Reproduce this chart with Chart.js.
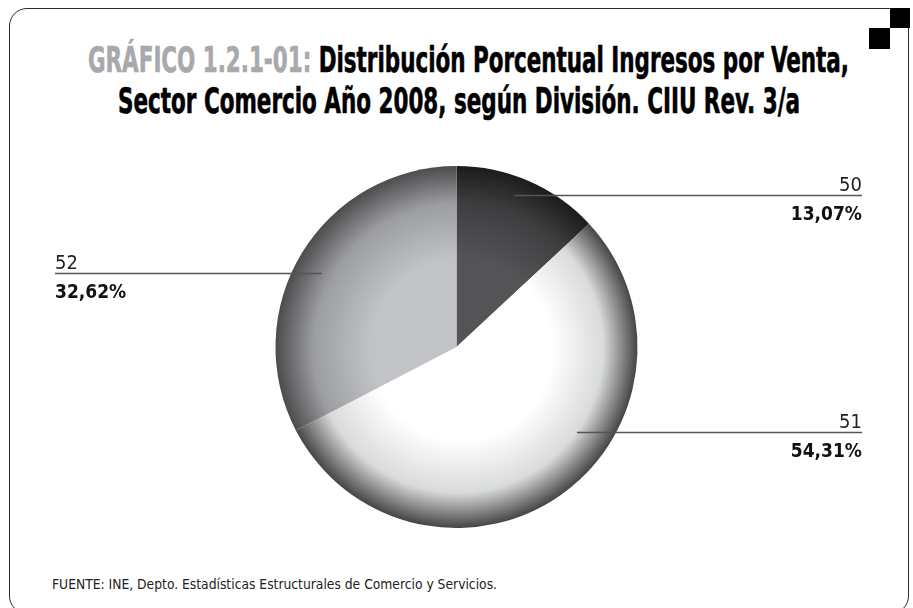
<!DOCTYPE html>
<html>
<head>
<meta charset="utf-8">
<script src="https://cdn.jsdelivr.net/npm/chart.js@4.4.1/dist/chart.umd.min.js"></script>
<style>
  html, body { margin: 0; padding: 0; background: #fff; }
  body { width: 913px; height: 608px; position: relative; overflow: hidden; }
  #frame {
    position: absolute; left: 9px; top: 8px; width: 900px; height: 606px;
    border: 1.4px solid #2a2a2a; border-radius: 18px; box-sizing: border-box;
  }
  .sq { position: absolute; background: #000; }
  .title, #foot {
    position: absolute; left: 0; white-space: nowrap; transform-origin: 0 0;
    font-family: "Liberation Sans Narrow", "DejaVu Sans Condensed", sans-serif;
    line-height: 1;
  }
  .title { font-weight: bold; font-size: 35px; color: #000; -webkit-text-stroke: 0.6px currentColor; }
  .title .code { color: #a7a9ac; }
  #foot { font-size: 14px; color: #222; }
  #chart { position: absolute; left: 0; top: 0; }
</style>
</head>
<body>
<div id="frame"></div>
<div class="sq" style="left:890px;top:8px;width:20px;height:20px"></div>
<div class="sq" style="left:869px;top:28px;width:21px;height:21px"></div>

<div class="title" id="t1"><span class="code">GRÁFICO 1.2.1-01:</span> Distribución Porcentual Ingresos por Venta,</div>
<div class="title" id="t2">Sector Comercio Año 2008, según División. CIIU Rev. 3/a</div>
<div id="foot">FUENTE: INE, Depto. Estadísticas Estructurales de Comercio y Servicios.</div>

<canvas id="chart" width="913" height="608"></canvas>

<script>
// ── Data ────────────────────────────────────────────────────────────────────
const divisions = ['50', '51', '52'];
const shares    = [13.07, 54.31, 32.62];
const shareText = ['13,07%', '54,31%', '32,62%'];

// ── Colours: base tone at the centre, darkening toward the rim ─────────────
const BASE = ['#545456', '#ffffff', '#c2c3c6'];
const MID  = ['#3e3e40', '#d9dadb', '#9c9da0'];
const RIM  = ['#1c1c1c', '#454545', '#4c4c4e'];

const FONT = "'Liberation Sans Narrow', 'DejaVu Sans Condensed', sans-serif";

// stretch a text line between two x positions, sitting on a baseline
function fitLine(id, left, right, baseline) {
  const el = document.getElementById(id);
  const fs = parseFloat(getComputedStyle(el).fontSize);
  const w = el.getBoundingClientRect().width;
  el.style.left = left + 'px';
  el.style.top = (baseline - 0.846 * fs) + 'px';
  el.style.transform = `scaleX(${(right - left) / w})`;
}
fitLine('t1', 88, 849, 73);
fitLine('t2', 118, 800, 114);
fitLine('foot', 52, 497, 589);

function shade(ctx) {
  const area = ctx.chart.chartArea;
  const i = ctx.dataIndex;
  if (!area) return BASE[i];
  const cx = (area.left + area.right) / 2;
  const cy = (area.top + area.bottom) / 2;
  const r = Math.min(area.right - area.left, area.bottom - area.top) / 2;
  const g = ctx.chart.ctx.createRadialGradient(cx + 10, cy + 5, 0, cx, cy, r);
  g.addColorStop(0, BASE[i]);
  g.addColorStop(0.5, BASE[i]);
  g.addColorStop(0.8, MID[i]);
  g.addColorStop(1, RIM[i]);
  return g;
}

// leader lines + labels, anchored on each slice
const callout = {
  frac:   [0.44, 0.40, 0.48],   // position along the slice's angle
  radius: [0.90, 0.815, 0.85],  // fraction of the pie radius
  side:   ['right', 'right', 'left'],
};
const calloutPlugin = {
  id: 'callout',
  afterDatasetsDraw(chart) {
    const c = chart.ctx;
    chart.getDatasetMeta(0).data.forEach((arc, i) => {
      const p = arc.getProps(['x', 'y', 'startAngle', 'endAngle', 'outerRadius'], true);
      const a = p.startAngle + callout.frac[i] * (p.endAngle - p.startAngle);
      const ax = p.x + Math.cos(a) * p.outerRadius * callout.radius[i];
      const ay = Math.round(p.y + Math.sin(a) * p.outerRadius * callout.radius[i]);
      const right = callout.side[i] === 'right';
      const tx = right ? 862 : 55;
      c.save();
      c.strokeStyle = '#555';
      c.lineWidth = 1.3;
      c.beginPath();
      c.moveTo(ax, ay + 0.5);
      c.lineTo(tx, ay + 0.5);
      c.stroke();
      c.fillStyle = '#222';
      c.textAlign = right ? 'right' : 'left';
      c.textBaseline = 'alphabetic';
      c.font = `20px ${FONT}`;
      c.fillText(divisions[i], tx, ay - 4);
      c.fillStyle = '#111';
      c.font = `bold 19px ${FONT}`;
      c.fillText(shareText[i], tx, ay + 25);
      c.restore();
    });
  },
};

new Chart(document.getElementById('chart'), {
  type: 'pie',
  data: {
    labels: divisions,
    datasets: [{
      data: shares,
      backgroundColor: shade,
      borderWidth: 0,
    }],
  },
  options: {
    responsive: false,
    animation: false,
    layout: { padding: { left: 275, right: 275, top: 166, bottom: 80 } },
    plugins: {
      legend: { display: false },
      tooltip: { enabled: false },
    },
  },
  plugins: [calloutPlugin],
});
</script>
</body>
</html>
